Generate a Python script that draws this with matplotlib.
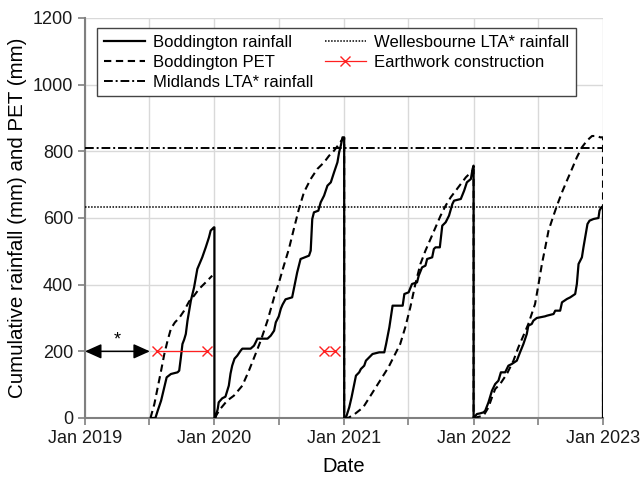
import numpy as np
import pandas as pd
import matplotlib
matplotlib.use("Agg")
import matplotlib.pyplot as plt
import matplotlib.dates as mdates

plt.rcParams['font.family'] = ['Liberation Sans', 'DejaVu Sans']

# Cumulative Boddington rainfall per season: fraction of the year, mm
rain_2019_t = [0.511, 0.544, 0.562, 0.588, 0.613, 0.631, 0.664, 0.715, 0.728, 0.741,
               0.753, 0.766, 0.779, 0.792, 0.818, 0.843, 0.868, 0.906, 0.933, 0.958,
               0.971, 0.996, 1.0]
rain_2019_mm = [0, 0, 22, 52, 92, 122, 132, 137, 142, 182,
                222, 235, 252, 292, 352, 392, 447, 482, 512, 542,
                562, 572, 572]

rain_2020_t = [0.0, 0.008, 0.026, 0.033, 0.060, 0.085, 0.099, 0.111, 0.124, 0.137,
               0.155, 0.176, 0.202, 0.215, 0.279, 0.305, 0.318, 0.331, 0.409, 0.434,
               0.460, 0.473, 0.496, 0.512, 0.525, 0.548, 0.599, 0.612, 0.638, 0.664,
               0.729, 0.742, 0.754, 0.767, 0.801, 0.819, 0.845, 0.871, 0.897, 0.922,
               0.948, 0.961, 0.974, 0.987, 1.0]
rain_2020_mm = [0, 0, 28, 47, 59, 64, 82, 97, 133, 157,
                178, 187, 202, 208, 208, 217, 227, 238, 238, 247,
                262, 287, 305, 328, 340, 356, 362, 387, 437, 477,
                487, 502, 597, 617, 622, 647, 667, 697, 707, 737,
                767, 797, 817, 842, 842]

rain_2021_t = [0.0, 0.013, 0.039, 0.057, 0.078, 0.091, 0.116, 0.129, 0.155, 0.168,
               0.194, 0.219, 0.271, 0.310, 0.324, 0.349, 0.374, 0.452, 0.465, 0.498,
               0.524, 0.563, 0.576, 0.602, 0.628, 0.641, 0.680, 0.693, 0.706, 0.739,
               0.758, 0.784, 0.810, 0.836, 0.849, 0.901, 0.927, 0.948, 0.979, 0.992,
               1.0]
rain_2021_mm = [0, 0, 32, 62, 102, 127, 137, 147, 157, 172,
                182, 192, 197, 197, 222, 272, 337, 337, 372, 377,
                402, 407, 427, 452, 457, 477, 482, 507, 512, 512,
                577, 587, 607, 642, 652, 657, 682, 707, 717, 747,
                757]

rain_2022_t = [0.0, 0.026, 0.052, 0.077, 0.090, 0.115, 0.142, 0.167, 0.192, 0.211,
               0.244, 0.269, 0.295, 0.334, 0.359, 0.385, 0.411, 0.423, 0.449, 0.462,
               0.488, 0.552, 0.567, 0.618, 0.631, 0.669, 0.683, 0.721, 0.747, 0.785,
               0.798, 0.811, 0.837, 0.849, 0.862, 0.880, 0.896, 0.927, 0.965, 0.973,
               0.986, 1.0, 1.0]
rain_2022_mm = [0, 12, 14, 17, 22, 47, 82, 102, 112, 137,
                137, 157, 162, 172, 197, 222, 252, 277, 282, 292,
                300, 305, 307, 312, 322, 322, 347, 357, 362, 372,
                402, 462, 482, 512, 542, 582, 592, 597, 600, 622,
                632, 635, 0]

# Cumulative Boddington potential evapotranspiration per season
pet_2019_t = [0.506, 0.536, 0.562, 0.588, 0.613, 0.638, 0.664, 0.695, 0.728, 0.766,
              0.805, 0.843, 0.881, 0.933, 0.983]
pet_2019_mm = [0, 42, 92, 142, 192, 232, 268, 287, 300, 322,
               350, 367, 387, 407, 427]

pet_2020_t = [0.0, 0.047, 0.098, 0.150, 0.215, 0.266, 0.318, 0.357, 0.409, 0.460,
              0.500, 0.535, 0.574, 0.612, 0.651, 0.690, 0.742, 0.793, 0.845, 0.884,
              0.922, 0.961, 0.987, 1.0, 1.0]
pet_2020_mm = [0, 28, 52, 67, 97, 142, 193, 232, 292, 362,
               410, 457, 507, 567, 627, 677, 717, 747, 767, 787,
               802, 822, 837, 840, 0]

pet_2021_t = [0.0, 0.030, 0.082, 0.147, 0.212, 0.277, 0.342, 0.394, 0.433, 0.472,
              0.511, 0.550, 0.589, 0.628, 0.667, 0.706, 0.745, 0.784, 0.823, 0.862,
              0.901, 0.940, 0.979, 1.0, 1.0]
pet_2021_mm = [0, 0, 12, 32, 72, 112, 152, 192, 222, 272,
               332, 402, 462, 502, 537, 572, 607, 637, 662, 682,
               702, 722, 737, 745, 0]

pet_2022_t = [0.0, 0.077, 0.115, 0.142, 0.167, 0.205, 0.257, 0.308, 0.346, 0.385,
              0.423, 0.475, 0.502, 0.528, 0.554, 0.579, 0.613, 0.644, 0.683, 0.721,
              0.760, 0.798, 0.837, 0.876, 0.915, 0.953, 0.979, 1.0, 1.0]
pet_2022_mm = [0, 7, 32, 62, 87, 102, 132, 172, 212, 247,
               282, 342, 402, 462, 512, 562, 602, 637, 677, 712,
               747, 782, 812, 832, 846, 846, 842, 842, 0]

# Long-term average annual rainfall (mm)
midlands_lta_mm = 810
wellesbourne_lta_mm = 632

# Earthwork construction periods, drawn at 200 mm
earthwork_start = ['2019-07-24', '2020-11-04']
earthwork_end = ['2019-12-11', '2020-12-07']
earthwork_level = 200

# Period before monitoring began
arrow_start = '2019-01-01'
arrow_end = '2019-07-03'
arrow_level = 200

x_start, x_end = '2019-01-01', '2023-01-01'
y_ticks = [0, 200, 400, 600, 800, 1000, 1200]


def season_dates(year, fractions):
    start = pd.Timestamp(f'{year}-01-01')
    days = (pd.Timestamp(f'{year + 1}-01-01') - start).days
    stamps = [start + pd.Timedelta(days=f * days) for f in fractions]
    return mdates.date2num(stamps)


def join(parts):
    xs, ys = [], []
    for year, t, v in parts:
        xs.extend(season_dates(year, t))
        ys.extend(v)
        xs.append(np.nan)
        ys.append(np.nan)
    return np.array(xs[:-1]), np.array(ys[:-1])


rain_x, rain_y = join([(2019, rain_2019_t, rain_2019_mm), (2020, rain_2020_t, rain_2020_mm),
                       (2021, rain_2021_t, rain_2021_mm), (2022, rain_2022_t, rain_2022_mm)])
# rainfall seasons are one continuous trace: drop back to zero at each year end
rain_x = rain_x[~np.isnan(rain_x)]
rain_y = rain_y[~np.isnan(rain_y)]

pet_x, pet_y = join([(2019, pet_2019_t, pet_2019_mm), (2020, pet_2020_t, pet_2020_mm),
                     (2021, pet_2021_t, pet_2021_mm), (2022, pet_2022_t, pet_2022_mm)])

fig = plt.figure(figsize=(6.43, 4.78), dpi=100)
ax = fig.add_axes([85 / 643, 1 - 418 / 478, 518 / 643, 400 / 478])

x0 = mdates.date2num(pd.Timestamp(x_start))
x1 = mdates.date2num(pd.Timestamp(x_end))

h_pet, = ax.plot(pet_x, pet_y, color='black', lw=1.5, ls=(0, (3.5, 2.2)), zorder=3,
                 label='Boddington PET')
h_rain, = ax.plot(rain_x, rain_y, color='black', lw=1.6, zorder=4,
                  label='Boddington rainfall')
h_mid, = ax.plot([x0, x1], [midlands_lta_mm] * 2, color='black', lw=1.4,
                 ls=(0, (4.5, 1.5, 1, 1.5)), zorder=3, label='Midlands LTA* rainfall')
h_wel, = ax.plot([x0, x1], [wellesbourne_lta_mm] * 2, color='black', lw=1.1,
                 ls=(0, (1, 1)), zorder=3, label='Wellesbourne LTA* rainfall')

ew_x, ew_y = [], []
for s, e in zip(earthwork_start, earthwork_end):
    ew_x += [mdates.date2num(pd.Timestamp(s)), mdates.date2num(pd.Timestamp(e)), np.nan]
    ew_y += [earthwork_level, earthwork_level, np.nan]
h_ew, = ax.plot(ew_x, ew_y, color='#ff2020', lw=0.9, marker='x', ms=7, mew=1.0,
                zorder=5, label='Earthwork construction')

ax.annotate('', xy=(mdates.date2num(pd.Timestamp(arrow_start)), arrow_level),
            xytext=(mdates.date2num(pd.Timestamp(arrow_end)), arrow_level),
            arrowprops=dict(arrowstyle='<|-|>,head_length=1.0,head_width=0.45',
                            color='black', lw=1.1, shrinkA=0, shrinkB=0),
            zorder=5)
mid = (mdates.date2num(pd.Timestamp(arrow_start)) + mdates.date2num(pd.Timestamp(arrow_end))) / 2
ax.text(mid, arrow_level + 8, '*', ha='center', va='bottom', fontsize=13, color='black')

ax.set_xlim(x0, x1)
ax.set_ylim(0, 1200)
ax.set_yticks(y_ticks)
ax.xaxis.set_major_locator(mdates.MonthLocator(bymonth=1))
ax.xaxis.set_major_formatter(mdates.DateFormatter('%b %Y'))
ax.xaxis.set_minor_locator(mdates.MonthLocator(bymonth=7))

ax.grid(True, which='both', color='#d9d9d9', lw=1.0, zorder=0)
ax.set_axisbelow(True)
for side in ('top', 'right'):
    ax.spines[side].set_visible(False)
for side in ('left', 'bottom'):
    ax.spines[side].set_color('#808080')
    ax.spines[side].set_linewidth(1.5)
ax.tick_params(which='both', direction='out', length=5, width=1.2, color='#808080',
               labelsize=13, labelcolor='#1a1a1a')

ax.set_xlabel('Date', fontsize=14.5, labelpad=7)
ax.set_ylabel('Cumulative rainfall (mm) and PET (mm)', fontsize=14.8, labelpad=4)

leg = ax.legend(handles=[h_rain, h_pet, h_mid, h_wel, h_ew], ncol=2, loc='upper left',
                bbox_to_anchor=(0.023, 0.975), borderaxespad=0, fontsize=12,
                frameon=True, fancybox=False, framealpha=1, edgecolor='#444444',
                handlelength=2.5, handletextpad=0.45, columnspacing=0.7,
                labelspacing=0.3, borderpad=0.4)
leg.get_frame().set_linewidth(1.0)

fig.savefig('out.png', dpi=100)
